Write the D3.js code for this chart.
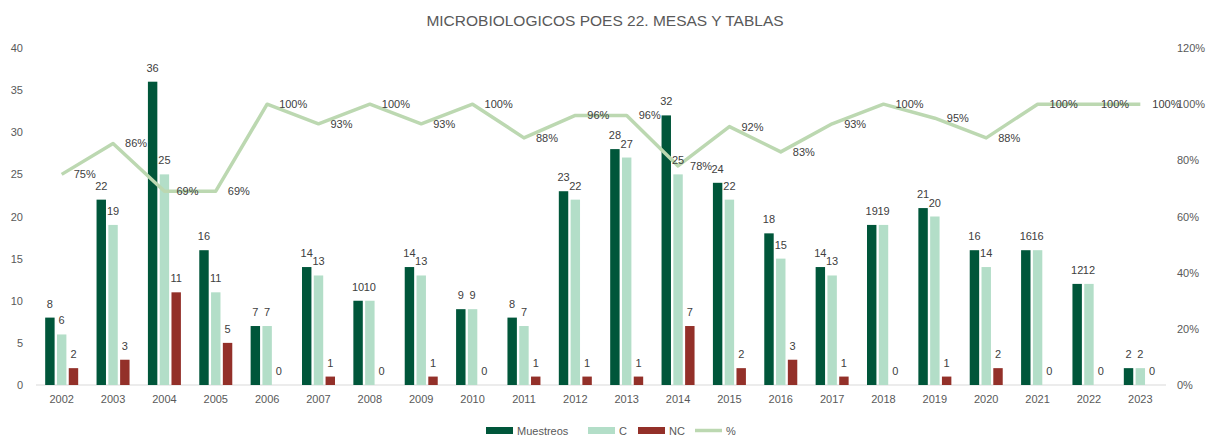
<!DOCTYPE html>
<html><head><meta charset="utf-8">
<script src="https://cdn.jsdelivr.net/npm/d3@7/dist/d3.min.js"></script>
<style>
html,body{margin:0;padding:0;background:#fff;}
svg{display:block;font-family:"Liberation Sans",Arial,sans-serif;}
</style></head>
<body><svg id="chart" width="1210" height="440"></svg>
<script>
const years = ["2002","2003","2004","2005","2006","2007","2008","2009","2010","2011","2012","2013","2014","2015","2016","2017","2018","2019","2020","2021","2022","2023"];
const muestreos = [8,22,36,16,7,14,10,14,9,8,23,28,32,24,18,14,19,21,16,16,12,2];
const conformes = [6,19,25,11,7,13,10,13,9,7,22,27,25,22,15,13,19,20,14,16,12,2];
const noConformes = [2,3,11,5,0,1,0,1,0,1,1,1,7,2,3,1,0,1,2,0,0,0];
const porcentaje = [0.75,0.86,0.69,0.69,1.00,0.93,1.00,0.93,1.00,0.88,0.96,0.96,0.78,0.92,0.83,0.93,1.00,0.95,0.88,1.00,1.00,1.00];
const leftTicks = [0,5,10,15,20,25,30,35,40];
const rightTicks = [0,0.2,0.4,0.6,0.8,1.0,1.2];
const seriesNames = ["Muestreos","C","NC"];
const seriesColors = {"Muestreos":"#00563a","C":"#b3dec8","NC":"#933029"};
const lineColor = "#bcd8b1";

const svg = d3.select("#chart");
const x = d3.scaleBand().domain(years).range([36, 1166]).paddingInner(0).paddingOuter(0);
const xs = d3.scaleBand().domain(seriesNames).range([-16.5, 16.5]).paddingInner(0.2);
const y = d3.scaleLinear().domain([0, 40]).range([385, 48]);
const yr = d3.scaleLinear().domain([0, 1.2]).range([385, 48]);
const textCol = "#595959";
const labelCol = "#404040";

// title
svg.append("text").attr("x", 605).attr("y", 26).attr("text-anchor","middle")
  .attr("font-size", 15.5).attr("fill", textCol).text("MICROBIOLOGICOS POES 22. MESAS Y TABLAS");

// left axis labels
const gl = svg.append("g");
leftTicks.forEach(t => {
  gl.append("text").attr("x", 23).attr("y", y(t) + 4).attr("text-anchor","end")
    .attr("font-size", 11).attr("fill", textCol).text(t);
});
// right axis labels
const fmt = d3.format(".0%");
rightTicks.forEach(t => {
  gl.append("text").attr("x", 1177).attr("y", yr(t) + 4).attr("text-anchor","start")
    .attr("font-size", 11).attr("fill", textCol).text(fmt(t));
});

// baseline
svg.append("line").attr("x1", x.range()[0]).attr("x2", x.range()[1])
  .attr("y1", y(0)).attr("y2", y(0)).attr("stroke", "#d9d9d9").attr("stroke-width", 1);

// x labels
years.forEach(yv => {
  svg.append("text").attr("x", x(yv) + x.bandwidth()/2).attr("y", 403).attr("text-anchor","middle")
    .attr("font-size", 11).attr("fill", textCol).text(yv);
});

// bars
const seriesData = {"Muestreos": muestreos, "C": conformes, "NC": noConformes};
const gb = svg.append("g");
seriesNames.forEach(s => {
  years.forEach((yv, i) => {
    const v = seriesData[s][i];
    const cx = x(yv) + x.bandwidth()/2 + xs(s);
    gb.append("rect").attr("x", cx).attr("y", y(v)).attr("width", xs.bandwidth())
      .attr("height", y(0) - y(v)).attr("fill", seriesColors[s]);
  });
});

// line
const pts = years.map((yv, i) => [x(yv) + x.bandwidth()/2, yr(porcentaje[i])]);
svg.append("path").attr("d", d3.line()(pts)).attr("fill","none")
  .attr("stroke", lineColor).attr("stroke-width", 3.5).attr("stroke-linejoin","round");

// bar labels
seriesNames.forEach(s => {
  years.forEach((yv, i) => {
    const v = seriesData[s][i];
    const cx = x(yv) + x.bandwidth()/2 + xs(s) + xs.bandwidth()/2;
    svg.append("text").attr("x", cx).attr("y", y(v) - 10).attr("text-anchor","middle")
      .attr("font-size", 11).attr("fill", labelCol).text(v);
  });
});

// percent labels
pts.forEach((p, i) => {
  svg.append("text").attr("x", p[0] + 12).attr("y", p[1] + 4).attr("text-anchor","start")
    .attr("font-size", 11).attr("fill", labelCol).text(fmt(porcentaje[i]));
});

// legend
const lg = svg.append("g");
const legendItems = [
  {name:"Muestreos", type:"rect", color:seriesColors["Muestreos"], x:486},
  {name:"C", type:"rect", color:seriesColors["C"], x:588},
  {name:"NC", type:"rect", color:seriesColors["NC"], x:638},
  {name:"%", type:"line", color:lineColor, x:695}
];
legendItems.forEach(it => {
  if (it.type === "rect") {
    lg.append("rect").attr("x", it.x).attr("y", 427).attr("width", 27).attr("height", 7).attr("fill", it.color);
  } else {
    lg.append("line").attr("x1", it.x).attr("x2", it.x + 27).attr("y1", 430.5).attr("y2", 430.5)
      .attr("stroke", it.color).attr("stroke-width", 3.5);
  }
  lg.append("text").attr("x", it.x + 31).attr("y", 434.5).attr("font-size", 11).attr("fill", textCol).text(it.name);
});
</script></body></html>
